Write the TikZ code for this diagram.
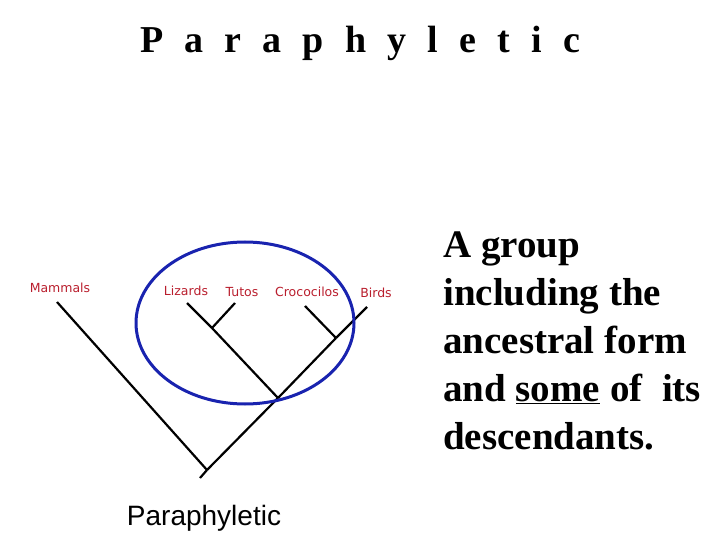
\documentclass[tikz,border=0pt]{standalone}
\usepackage{fontspec}
\setmainfont{Liberation Serif}
\newfontfamily\taxonfont{DejaVu Sans}
\newfontfamily\captionfont{Liberation Sans}
\definecolor{taxonred}{RGB}{185,30,45}
\definecolor{cladeblue}{RGB}{25,35,175}

\begin{document}
\begin{tikzpicture}
[x=1pt,y=-1pt,
  branchDecorate/.style={-,line width=2.2pt,black},%
  taxonDecorate/.style={anchor=base,inner sep=0pt,text=taxonred,
    font=\taxonfont\fontsize{12.5}{14}\selectfont},%
  textDecorate/.style={anchor=base west,inner sep=0pt,
    font=\bfseries\fontsize{39}{46}\selectfont}]
\useasboundingbox (0,0) rectangle (720,540);
%% title
\node (title) at (360,53) [anchor=base,inner sep=0pt,
  font=\bfseries\fontsize{38}{46}\selectfont]
  {\makebox[440pt][s]{P\hfill a\hfill r\hfill a\hfill p\hfill h\hfill
   y\hfill l\hfill e\hfill t\hfill i\hfill c}};
%% taxa
\foreach \nodename/\txt/\x/\y in {
  mammals/Mammals/60/292, lizards/Lizards/186/295, tutos/Tutos/242/296,
  croco/Crococilos/307/296, birds/Birds/376/297}
{
  \node (\nodename) at (\x,\y) [taxonDecorate] {\txt};
}
%% tips and junctions
\foreach \nodename/\x/\y in {
  root/200/478, rj/207/470, mtip/57/302, btip/367/307, j1/278/398,
  ltj/212/328, ltip/187/303, ttip/235/303, cj/336/338, ctip/305/306}
{
  \coordinate (\nodename) at (\x,\y);
}
%% branches
\path
\foreach \startnode/\endnode in {root/rj, rj/mtip, rj/j1, j1/cj, cj/btip,
  j1/ltj, ltj/ltip, ltj/ttip, cj/ctip}
{
  (\startnode) edge[branchDecorate] (\endnode)
};
%% clade
\coordinate (clade) at (245,323);
\draw[cladeblue,line width=3pt] (clade) ellipse [x radius=109pt,y radius=81pt];
\node (caption) at (204,525) [anchor=base,inner sep=0pt,
  font=\captionfont\fontsize{28}{30}\selectfont] {Paraphyletic};
%% definition
\foreach \nodename/\txt/\y in {
  lineA/A group/257, lineB/including the/305, lineC/ancestral form/353,
  lineD/and \underline{some} of\ \ its/401, lineE/descendants./449}
{
  \node (\nodename) at (443,\y) [textDecorate] {\txt};
}
\end{tikzpicture}
\end{document}
